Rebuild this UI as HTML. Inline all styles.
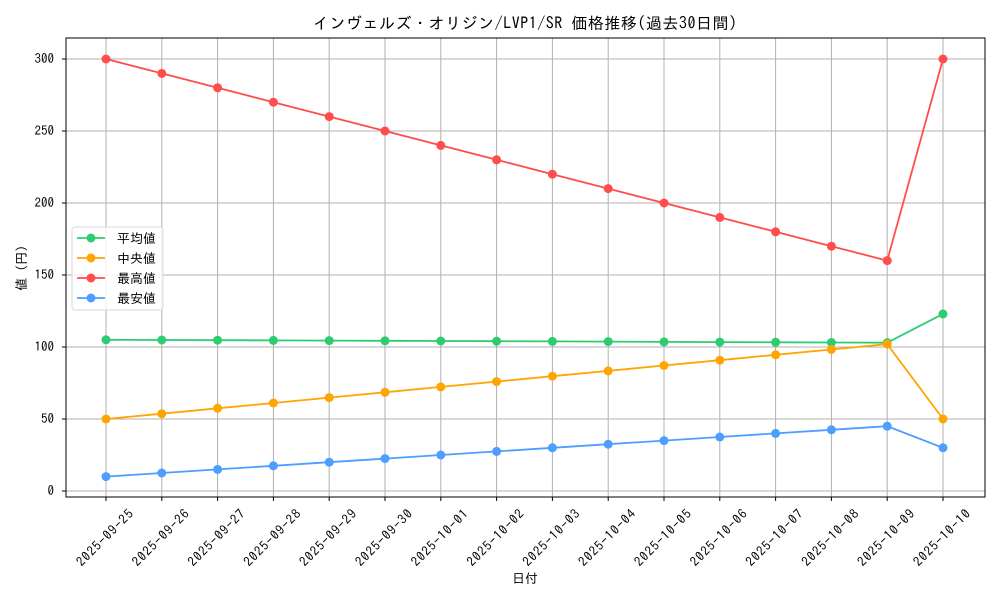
<!DOCTYPE html>
<html><head><meta charset="utf-8"><style>
body{margin:0;background:#fff}
svg{font-family:"IPAGothic","Noto Sans CJK JP",sans-serif}
</style></head><body>
<svg width="1000" height="600" viewBox="0 0 1000 600" xmlns="http://www.w3.org/2000/svg">
<rect width="1000" height="600" fill="#fff"/>
<g stroke="#b0b0b0" stroke-width="1">
<line x1="106" y1="38" x2="106" y2="497"/><line x1="161.8" y1="38" x2="161.8" y2="497"/><line x1="217.6" y1="38" x2="217.6" y2="497"/><line x1="273.4" y1="38" x2="273.4" y2="497"/><line x1="329.2" y1="38" x2="329.2" y2="497"/><line x1="385" y1="38" x2="385" y2="497"/><line x1="440.8" y1="38" x2="440.8" y2="497"/><line x1="496.6" y1="38" x2="496.6" y2="497"/><line x1="552.4" y1="38" x2="552.4" y2="497"/><line x1="608.2" y1="38" x2="608.2" y2="497"/><line x1="664" y1="38" x2="664" y2="497"/><line x1="719.8" y1="38" x2="719.8" y2="497"/><line x1="775.6" y1="38" x2="775.6" y2="497"/><line x1="831.4" y1="38" x2="831.4" y2="497"/><line x1="887.2" y1="38" x2="887.2" y2="497"/><line x1="943" y1="38" x2="943" y2="497"/>
<line x1="66" y1="491" x2="985" y2="491"/><line x1="66" y1="419" x2="985" y2="419"/><line x1="66" y1="347" x2="985" y2="347"/><line x1="66" y1="275" x2="985" y2="275"/><line x1="66" y1="203" x2="985" y2="203"/><line x1="66" y1="131" x2="985" y2="131"/><line x1="66" y1="59" x2="985" y2="59"/>
</g>
<rect x="66" y="38" width="919" height="459" fill="none" stroke="#000" stroke-width="1"/>
<g stroke="#000">
<line x1="106" y1="497" x2="106" y2="501"/><line x1="161.8" y1="497" x2="161.8" y2="501"/><line x1="217.6" y1="497" x2="217.6" y2="501"/><line x1="273.4" y1="497" x2="273.4" y2="501"/><line x1="329.2" y1="497" x2="329.2" y2="501"/><line x1="385" y1="497" x2="385" y2="501"/><line x1="440.8" y1="497" x2="440.8" y2="501"/><line x1="496.6" y1="497" x2="496.6" y2="501"/><line x1="552.4" y1="497" x2="552.4" y2="501"/><line x1="608.2" y1="497" x2="608.2" y2="501"/><line x1="664" y1="497" x2="664" y2="501"/><line x1="719.8" y1="497" x2="719.8" y2="501"/><line x1="775.6" y1="497" x2="775.6" y2="501"/><line x1="831.4" y1="497" x2="831.4" y2="501"/><line x1="887.2" y1="497" x2="887.2" y2="501"/><line x1="943" y1="497" x2="943" y2="501"/>
<line x1="62" y1="491" x2="66" y2="491"/><line x1="62" y1="419" x2="66" y2="419"/><line x1="62" y1="347" x2="66" y2="347"/><line x1="62" y1="275" x2="66" y2="275"/><line x1="62" y1="203" x2="66" y2="203"/><line x1="62" y1="131" x2="66" y2="131"/><line x1="62" y1="59" x2="66" y2="59"/>
</g>
<g font-size="13" text-anchor="end" fill="#000">
<text x="54" y="495">0</text><text x="54" y="423">50</text><text x="54" y="351">100</text><text x="54" y="279">150</text><text x="54" y="207">200</text><text x="54" y="135">250</text><text x="54" y="63">300</text>
</g>
<g font-size="13" text-anchor="middle" fill="#000">
<text transform="translate(108,541) rotate(-45)" textLength="74">2025-09-25</text>
<text transform="translate(163.8,541) rotate(-45)" textLength="74">2025-09-26</text>
<text transform="translate(219.6,541) rotate(-45)" textLength="74">2025-09-27</text>
<text transform="translate(275.4,541) rotate(-45)" textLength="74">2025-09-28</text>
<text transform="translate(331.2,541) rotate(-45)" textLength="74">2025-09-29</text>
<text transform="translate(387,541) rotate(-45)" textLength="74">2025-09-30</text>
<text transform="translate(442.8,541) rotate(-45)" textLength="74">2025-10-01</text>
<text transform="translate(498.6,541) rotate(-45)" textLength="74">2025-10-02</text>
<text transform="translate(554.4,541) rotate(-45)" textLength="74">2025-10-03</text>
<text transform="translate(610.2,541) rotate(-45)" textLength="74">2025-10-04</text>
<text transform="translate(666,541) rotate(-45)" textLength="74">2025-10-05</text>
<text transform="translate(721.8,541) rotate(-45)" textLength="74">2025-10-06</text>
<text transform="translate(777.6,541) rotate(-45)" textLength="74">2025-10-07</text>
<text transform="translate(833.4,541) rotate(-45)" textLength="74">2025-10-08</text>
<text transform="translate(889.2,541) rotate(-45)" textLength="74">2025-10-09</text>
<text transform="translate(945,541) rotate(-45)" textLength="74">2025-10-10</text>
</g>
<text x="525" y="583" font-size="13" text-anchor="middle">日付</text>
<text transform="translate(26,268) rotate(-90)" font-size="13" text-anchor="middle">値 (円)</text>
<text x="525" y="29" font-size="16" text-anchor="middle" textLength="424">インヴェルズ・オリジン/LVP1/SR 価格推移(過去30日間)</text>

<g stroke-width="1.8" fill="none">
<polyline stroke="#2ecc71" points="106,339.8 161.8,340 217.6,340.2 273.4,340.4 329.2,340.6 385,340.8 440.8,341 496.6,341.2 552.4,341.4 608.2,341.6 664,341.9 719.8,342.1 775.6,342.3 831.4,342.5 887.2,342.7 943,313.9"/>
<polyline stroke="#ffa500" points="106,419 161.8,413.7 217.6,408.3 273.4,403 329.2,397.6 385,392.3 440.8,386.9 496.6,381.6 552.4,376.2 608.2,370.9 664,365.5 719.8,360.2 775.6,354.8 831.4,349.5 887.2,344.1 943,419"/>
<polyline stroke="#ff4d4d" points="106,59 161.8,73.4 217.6,87.8 273.4,102.2 329.2,116.6 385,131 440.8,145.4 496.6,159.8 552.4,174.2 608.2,188.6 664,203 719.8,217.4 775.6,231.8 831.4,246.2 887.2,260.6 943,59"/>
<polyline stroke="#4d9eff" points="106,476.6 161.8,473 217.6,469.4 273.4,465.8 329.2,462.2 385,458.6 440.8,455 496.6,451.4 552.4,447.8 608.2,444.2 664,440.6 719.8,437 775.6,433.4 831.4,429.8 887.2,426.2 943,447.8"/>
</g>
<g fill="#2ecc71"><circle cx="106" cy="339.8" r="4.5"/><circle cx="161.8" cy="340" r="4.5"/><circle cx="217.6" cy="340.2" r="4.5"/><circle cx="273.4" cy="340.4" r="4.5"/><circle cx="329.2" cy="340.6" r="4.5"/><circle cx="385" cy="340.8" r="4.5"/><circle cx="440.8" cy="341" r="4.5"/><circle cx="496.6" cy="341.2" r="4.5"/><circle cx="552.4" cy="341.4" r="4.5"/><circle cx="608.2" cy="341.6" r="4.5"/><circle cx="664" cy="341.9" r="4.5"/><circle cx="719.8" cy="342.1" r="4.5"/><circle cx="775.6" cy="342.3" r="4.5"/><circle cx="831.4" cy="342.5" r="4.5"/><circle cx="887.2" cy="342.7" r="4.5"/><circle cx="943" cy="313.9" r="4.5"/></g>
<g fill="#ffa500"><circle cx="106" cy="419" r="4.5"/><circle cx="161.8" cy="413.7" r="4.5"/><circle cx="217.6" cy="408.3" r="4.5"/><circle cx="273.4" cy="403" r="4.5"/><circle cx="329.2" cy="397.6" r="4.5"/><circle cx="385" cy="392.3" r="4.5"/><circle cx="440.8" cy="386.9" r="4.5"/><circle cx="496.6" cy="381.6" r="4.5"/><circle cx="552.4" cy="376.2" r="4.5"/><circle cx="608.2" cy="370.9" r="4.5"/><circle cx="664" cy="365.5" r="4.5"/><circle cx="719.8" cy="360.2" r="4.5"/><circle cx="775.6" cy="354.8" r="4.5"/><circle cx="831.4" cy="349.5" r="4.5"/><circle cx="887.2" cy="344.1" r="4.5"/><circle cx="943" cy="419" r="4.5"/></g>
<g fill="#ff4d4d"><circle cx="106" cy="59" r="4.5"/><circle cx="161.8" cy="73.4" r="4.5"/><circle cx="217.6" cy="87.8" r="4.5"/><circle cx="273.4" cy="102.2" r="4.5"/><circle cx="329.2" cy="116.6" r="4.5"/><circle cx="385" cy="131" r="4.5"/><circle cx="440.8" cy="145.4" r="4.5"/><circle cx="496.6" cy="159.8" r="4.5"/><circle cx="552.4" cy="174.2" r="4.5"/><circle cx="608.2" cy="188.6" r="4.5"/><circle cx="664" cy="203" r="4.5"/><circle cx="719.8" cy="217.4" r="4.5"/><circle cx="775.6" cy="231.8" r="4.5"/><circle cx="831.4" cy="246.2" r="4.5"/><circle cx="887.2" cy="260.6" r="4.5"/><circle cx="943" cy="59" r="4.5"/></g>
<g fill="#4d9eff"><circle cx="106" cy="476.6" r="4.5"/><circle cx="161.8" cy="473" r="4.5"/><circle cx="217.6" cy="469.4" r="4.5"/><circle cx="273.4" cy="465.8" r="4.5"/><circle cx="329.2" cy="462.2" r="4.5"/><circle cx="385" cy="458.6" r="4.5"/><circle cx="440.8" cy="455" r="4.5"/><circle cx="496.6" cy="451.4" r="4.5"/><circle cx="552.4" cy="447.8" r="4.5"/><circle cx="608.2" cy="444.2" r="4.5"/><circle cx="664" cy="440.6" r="4.5"/><circle cx="719.8" cy="437" r="4.5"/><circle cx="775.6" cy="433.4" r="4.5"/><circle cx="831.4" cy="429.8" r="4.5"/><circle cx="887.2" cy="426.2" r="4.5"/><circle cx="943" cy="447.8" r="4.5"/></g>

<rect x="72" y="227" width="91" height="83" rx="3" fill="#fff" fill-opacity="0.8" stroke="#d9d9d9"/>
<g stroke-width="1.8">
<line x1="77" y1="238" x2="105" y2="238" stroke="#2ecc71"/><circle cx="91" cy="238" r="4.5" fill="#2ecc71"/>
<line x1="77" y1="258" x2="105" y2="258" stroke="#ffa500"/><circle cx="91" cy="258" r="4.5" fill="#ffa500"/>
<line x1="77" y1="278" x2="105" y2="278" stroke="#ff4d4d"/><circle cx="91" cy="278" r="4.5" fill="#ff4d4d"/>
<line x1="77" y1="298" x2="105" y2="298" stroke="#4d9eff"/><circle cx="91" cy="298" r="4.5" fill="#4d9eff"/>
</g>
<g font-size="13">
<text x="117" y="243">平均値</text><text x="117" y="263">中央値</text><text x="117" y="283">最高値</text><text x="117" y="303">最安値</text>
</g>
</svg>
</body></html>
